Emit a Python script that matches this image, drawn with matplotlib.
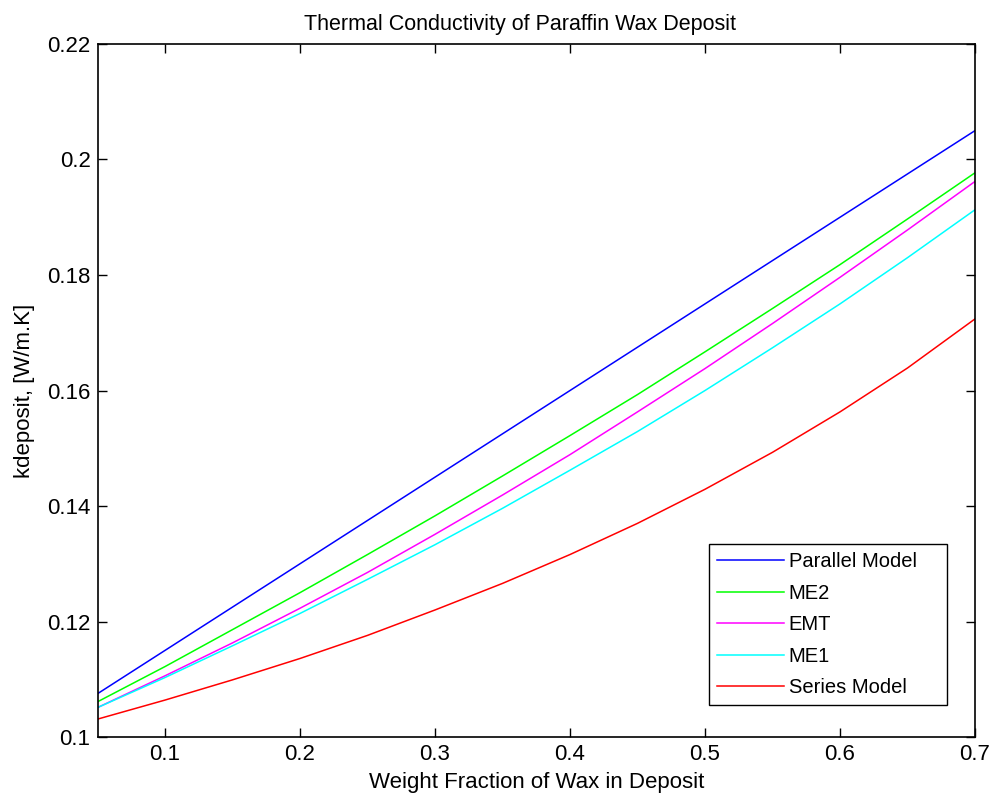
import matplotlib
matplotlib.use("Agg")
import matplotlib.pyplot as plt
from matplotlib.ticker import FormatStrFormatter

weight_fraction = [0.05, 0.10, 0.15, 0.20, 0.25, 0.30, 0.35, 0.40, 0.45, 0.50, 0.55, 0.60, 0.65, 0.70]
parallel_model = [0.1075, 0.1150, 0.1225, 0.1300, 0.1375, 0.1450, 0.1525, 0.1600, 0.1675, 0.1750,
                  0.1825, 0.1900, 0.1975, 0.2050]
me2 = [0.1061, 0.1122, 0.1186, 0.1250, 0.1316, 0.1383, 0.1452, 0.1522, 0.1593, 0.1667,
       0.1742, 0.1818, 0.1897, 0.1977]
emt = [0.1051, 0.1106, 0.1163, 0.1223, 0.1285, 0.1351, 0.1419, 0.1489, 0.1563, 0.1638,
       0.1716, 0.1796, 0.1878, 0.1962]
me1 = [0.1051, 0.1103, 0.1158, 0.1214, 0.1273, 0.1333, 0.1396, 0.1462, 0.1529, 0.1600,
       0.1674, 0.1750, 0.1830, 0.1913]
series_model = [0.1031, 0.1064, 0.1099, 0.1136, 0.1176, 0.1220, 0.1266, 0.1316, 0.1370, 0.1429,
                0.1493, 0.1563, 0.1639, 0.1724]

x_ticks = [0.1, 0.2, 0.3, 0.4, 0.5, 0.6, 0.7]
y_ticks = [0.1, 0.12, 0.14, 0.16, 0.18, 0.2, 0.22]

plt.rcParams['font.family'] = ['Liberation Sans', 'DejaVu Sans']

fig = plt.figure(figsize=(9.92, 7.98), dpi=100)
ax = fig.add_axes([0.0983, 0.0764, 0.8846, 0.8685])

lw = 1.1
ax.plot(weight_fraction, parallel_model, color='#0000ff', lw=lw, label='Parallel Model')
ax.plot(weight_fraction, me2, color='#00ff00', lw=lw, label='ME2')
ax.plot(weight_fraction, emt, color='#ff00ff', lw=lw, label='EMT')
ax.plot(weight_fraction, me1, color='#00ffff', lw=lw, label='ME1')
ax.plot(weight_fraction, series_model, color='#ff0000', lw=lw, label='Series Model')

ax.set_xlim(0.05, 0.7)
ax.set_ylim(0.1, 0.22)
ax.set_xticks(x_ticks)
ax.set_yticks(y_ticks)
ax.xaxis.set_major_formatter(FormatStrFormatter('%g'))
ax.yaxis.set_major_formatter(FormatStrFormatter('%g'))
ax.tick_params(direction='in', top=True, right=True, length=6.5, width=1, labelsize=16, pad=5)
for s in ax.spines.values():
    s.set_linewidth(1.2)

ax.set_title('Thermal Conductivity of Paraffin Wax Deposit', fontsize=15.5, pad=10, x=0.482)
ax.set_xlabel('Weight Fraction of Wax in Deposit', fontsize=16, labelpad=5)
ax.set_ylabel('kdeposit, [W/m.K]', fontsize=16, labelpad=9)

leg = ax.legend(loc='lower left', bbox_to_anchor=(0.697, 0.046, 0.271, 0.24), mode='expand',
                fontsize=14.5, handlelength=3.3,
                frameon=True, fancybox=False, edgecolor='black', framealpha=1,
                borderpad=0.4, labelspacing=0.62, handletextpad=0.25, borderaxespad=0.0)
leg.get_frame().set_linewidth(1.0)

fig.savefig('out.png', dpi=100, facecolor='white')
